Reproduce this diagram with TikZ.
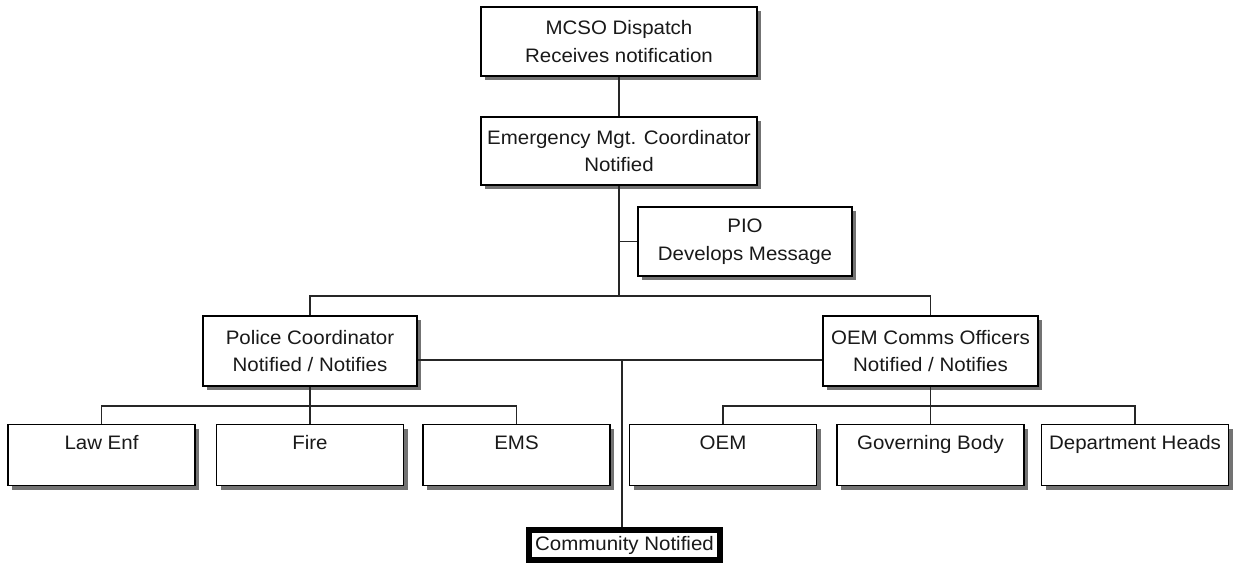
\documentclass[tikz,border=0pt]{standalone}
\usepackage{fontspec}
\setmainfont[FakeStretch=1.05]{Liberation Sans}
\usetikzlibrary{shadows}
\begin{document}
\begin{tikzpicture}[x=1pt,y=-1pt,
  basebox/.style={draw=black, line width=1.3pt, fill=white, inner sep=0pt,
    text=black!90, font=\fontsize{19.5}{27.5}\selectfont,
    general shadow={fill=black!55, shadow xshift=4pt, shadow yshift=-4pt}},
  box/.style={basebox, align=center},
  leaf/.style={basebox, minimum width=187pt, text height=25pt, text depth=36pt, anchor=north},
  conn/.style={line width=1.2pt, draw=black!85},
  commbox/.style={draw=black, line width=6pt, fill=white, inner sep=0pt,
    minimum width=191pt, minimum height=30pt, text=black!90,
    font=\fontsize{19.5}{24}\selectfont}]
\useasboundingbox (0,0) rectangle (1236,567);
\node[box, minimum width=276pt, minimum height=69pt] (mcso) at (619,41.5) {MCSO Dispatch\\Receives notification};
\node[box, minimum width=276pt, minimum height=68pt] (emc) at (619,151) {Emergency Mgt. Coordinator\\Notified};
\node[box, minimum width=214pt, minimum height=69pt] (pio) at (745,241.5) {PIO\\Develops Message};
\node[box, minimum width=214pt, minimum height=70pt] (police) at (310,351) {Police Coordinator\\Notified / Notifies};
\node[box, minimum width=215pt, minimum height=70pt] (oemc) at (930.5,351) {OEM Comms Officers\\Notified / Notifies};
\node[leaf] (law) at (101.5,424) {Law Enf};
\node[leaf] (fire) at (310,424) {Fire};
\node[leaf] (ems) at (516.5,424) {EMS};
\node[leaf] (oem) at (723,424) {OEM};
\node[leaf] (gov) at (930.5,424) {Governing Body};
\node[leaf] (dept) at (1135,424) {Department Heads};
\node[commbox] (comm) at (624.5,545) {Community Notified};
\coordinate (hub) at (619,296);
\coordinate (mid) at (622,360);
\coordinate (lbar) at (310,406);
\coordinate (rbar) at (930.5,406);
\draw[conn] (mcso.south) -- (emc.north);
\draw[conn] (emc.south) -- (hub);
\draw[conn] (emc.south |- pio.west) -- (pio.west);
\draw[conn] (police.north) -- (police.north |- hub) -- (oemc.north |- hub) -- (oemc.north);
\draw[conn] (police.east |- mid) -- (oemc.west |- mid);
\draw[conn] (mid) -- (mid |- comm.north);
\draw[conn] (police.south) -- (lbar);
\draw[conn] (law.north) -- (law.north |- lbar) -- (ems.north |- lbar) -- (ems.north);
\draw[conn] (lbar) -- (fire.north);
\draw[conn] (oemc.south) -- (rbar);
\draw[conn] (oem.north) -- (oem.north |- rbar) -- (dept.north |- rbar) -- (dept.north);
\draw[conn] (rbar) -- (gov.north);
\end{tikzpicture}
\end{document}
